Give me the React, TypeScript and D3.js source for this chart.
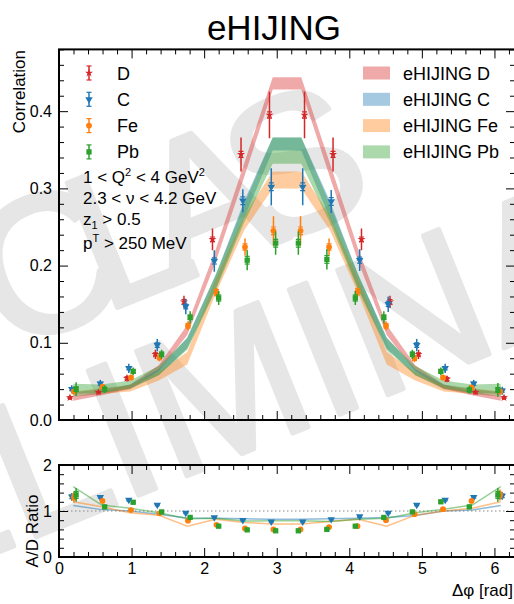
import { useEffect, useRef } from "react";
import * as d3 from "d3";

const FONT = "'Liberation Sans', Arial, Helvetica, sans-serif";

// Δφ bin centres (16 bins over 0..2π)
const bins = [0.196, 0.589, 0.982, 1.374, 1.767, 2.160, 2.553, 2.945, 3.338, 3.731, 4.123, 4.516, 4.909, 5.301, 5.694, 6.087];

// data points (correlation)
const valD = [0.029, 0.036, 0.054, 0.085, 0.153, 0.234, 0.344, 0.395, 0.395, 0.344, 0.234, 0.153, 0.085, 0.053, 0.036, 0.029];
const valC = [0.040, 0.047, 0.067, 0.097, 0.147, 0.206, 0.284, 0.302, 0.302, 0.283, 0.207, 0.150, 0.097, 0.067, 0.047, 0.038];
const valFe = [0.037, 0.043, 0.055, 0.081, 0.122, 0.165, 0.224, 0.245, 0.245, 0.224, 0.166, 0.122, 0.080, 0.055, 0.042, 0.037];
const valPb = [0.040, 0.040, 0.063, 0.085, 0.133, 0.158, 0.207, 0.229, 0.229, 0.208, 0.158, 0.133, 0.085, 0.063, 0.039, 0.039];

// systematic (long bar) and statistical (capped) errors
const sysD = [0.003, 0.003, 0.004, 0.006, 0.008, 0.014, 0.022, 0.030, 0.030, 0.022, 0.014, 0.008, 0.006, 0.004, 0.003, 0.003];
const sysC = [0.005, 0.005, 0.006, 0.008, 0.010, 0.014, 0.015, 0.024, 0.024, 0.015, 0.014, 0.010, 0.008, 0.006, 0.005, 0.005];
const sysFe = [0.004, 0.004, 0.004, 0.005, 0.006, 0.006, 0.011, 0.019, 0.019, 0.011, 0.006, 0.006, 0.005, 0.004, 0.004, 0.004];
const sysPb = [0.009, 0.005, 0.005, 0.006, 0.008, 0.009, 0.013, 0.015, 0.015, 0.013, 0.009, 0.008, 0.006, 0.005, 0.005, 0.009];
const statD = [0.001, 0.001, 0.002, 0.002, 0.003, 0.003, 0.004, 0.004, 0.004, 0.004, 0.003, 0.003, 0.002, 0.002, 0.001, 0.001];
const statC = [0.002, 0.002, 0.002, 0.003, 0.003, 0.004, 0.005, 0.005, 0.005, 0.005, 0.004, 0.003, 0.003, 0.002, 0.002, 0.002];
const statFe = [0.002, 0.002, 0.002, 0.003, 0.003, 0.004, 0.004, 0.005, 0.005, 0.004, 0.004, 0.003, 0.003, 0.002, 0.002, 0.002];
const statPb = [0.003, 0.002, 0.002, 0.003, 0.003, 0.004, 0.005, 0.005, 0.005, 0.005, 0.004, 0.003, 0.003, 0.002, 0.002, 0.003];

// eHIJING model bands (low / high)
const bandDlo = [0.025, 0.032, 0.040, 0.063, 0.110, 0.205, 0.315, 0.428, 0.428, 0.315, 0.205, 0.110, 0.063, 0.040, 0.032, 0.025];
const bandDhi = [0.030, 0.037, 0.046, 0.071, 0.123, 0.221, 0.333, 0.444, 0.444, 0.333, 0.221, 0.123, 0.071, 0.046, 0.037, 0.030];
const bandClo = [0.030, 0.034, 0.040, 0.058, 0.093, 0.170, 0.262, 0.349, 0.349, 0.262, 0.170, 0.093, 0.058, 0.040, 0.034, 0.030];
const bandChi = [0.036, 0.040, 0.046, 0.066, 0.107, 0.188, 0.284, 0.366, 0.366, 0.284, 0.188, 0.107, 0.066, 0.046, 0.040, 0.036];
const bandFelo = [0.030, 0.034, 0.037, 0.051, 0.072, 0.164, 0.246, 0.300, 0.300, 0.246, 0.164, 0.072, 0.051, 0.037, 0.034, 0.030];
const bandFehi = [0.037, 0.041, 0.045, 0.062, 0.088, 0.183, 0.265, 0.322, 0.322, 0.265, 0.183, 0.088, 0.062, 0.045, 0.041, 0.037];
const bandPblo = [0.034, 0.035, 0.041, 0.058, 0.091, 0.168, 0.256, 0.332, 0.332, 0.256, 0.168, 0.091, 0.058, 0.041, 0.035, 0.034];
const bandPbhi = [0.047, 0.046, 0.051, 0.070, 0.106, 0.188, 0.280, 0.366, 0.366, 0.280, 0.188, 0.106, 0.070, 0.051, 0.046, 0.047];

// A/D ratios (data)
const ratioC = [1.31, 1.30, 1.24, 1.13, 0.96, 0.86, 0.80, 0.77, 0.77, 0.82, 0.88, 0.96, 1.13, 1.24, 1.30, 1.33];
const ratioFe = [1.30, 1.22, 1.02, 0.95, 0.79, 0.70, 0.62, 0.60, 0.60, 0.65, 0.67, 0.80, 0.93, 1.04, 1.22, 1.35];
const ratioPb = [1.35, 1.09, 1.19, 0.98, 0.86, 0.67, 0.59, 0.57, 0.57, 0.60, 0.67, 0.86, 0.98, 1.20, 1.09, 1.35];
const ratioErrC = [0.08, 0.04, 0.04, 0.03, 0.03, 0.03, 0.03, 0.03, 0.03, 0.03, 0.03, 0.03, 0.03, 0.04, 0.04, 0.08];
const ratioErrFe = [0.12, 0.04, 0.04, 0.03, 0.03, 0.03, 0.03, 0.03, 0.03, 0.03, 0.03, 0.03, 0.03, 0.04, 0.04, 0.12];
const ratioErrPb = [0.15, 0.05, 0.05, 0.04, 0.03, 0.03, 0.03, 0.03, 0.03, 0.03, 0.03, 0.03, 0.04, 0.05, 0.05, 0.15];

// A/D ratios (eHIJING)
const modelC = [1.12, 1.03, 1.00, 0.93, 0.85, 0.84, 0.83, 0.82, 0.82, 0.83, 0.84, 0.86, 0.90, 1.00, 1.02, 1.12];
const modelFe = [1.20, 1.09, 0.96, 0.91, 0.67, 0.82, 0.75, 0.72, 0.72, 0.77, 0.82, 0.67, 0.91, 1.00, 1.06, 1.20];
const modelPb = [1.53, 1.13, 1.06, 0.96, 0.83, 0.84, 0.78, 0.79, 0.79, 0.77, 0.82, 0.84, 0.96, 1.04, 1.13, 1.53];

const legendLabels = ["D", "C", "Fe", "Pb"];
const yTicksMain = [0, 0.1, 0.2, 0.3, 0.4];
const yTicksRatio = [0, 1, 2];
const xTicks = [0, 1, 2, 3, 4, 5, 6];

export default function App() {
    const ref = useRef<SVGSVGElement>(null);

    useEffect(() => {
        const svg = d3.select(ref.current);
        svg.selectAll("*").remove();

        const x = d3.scaleLinear().domain([0, 2 * Math.PI]).range([59, 515]);
        const y = d3.scaleLinear().domain([0, 0.48]).range([420, 49.4]);
        const yr = d3.scaleLinear().domain([0, 2]).range([557, 465]);

        const series = [
            { name: "D", color: "#d62728", val: valD, sys: sysD, stat: statD, lo: bandDlo, hi: bandDhi, shift: 0.045, sym: d3.symbolStar, size: 20, rot: 0 },
            { name: "C", color: "#1f77b4", val: valC, sys: sysC, stat: statC, lo: bandClo, hi: bandChi, shift: 0.02, sym: d3.symbolTriangle, size: 24, rot: 180 },
            { name: "Fe", color: "#ff7f0e", val: valFe, sys: sysFe, stat: statFe, lo: bandFelo, hi: bandFehi, shift: -0.01, sym: d3.symbolCircle, size: 26, rot: 0 },
            { name: "Pb", color: "#2ca02c", val: valPb, sys: sysPb, stat: statPb, lo: bandPblo, hi: bandPbhi, shift: -0.04, sym: d3.symbolSquare, size: 28, rot: 0 },
        ];
        const ratios = [
            { s: series[1], val: ratioC, err: ratioErrC, model: modelC },
            { s: series[2], val: ratioFe, err: ratioErrFe, model: modelFe },
            { s: series[3], val: ratioPb, err: ratioErrPb, model: modelPb },
        ];
        const px = (b: number, shift: number) => x(b + (b < Math.PI ? -shift : shift));

        // watermark
        const wm = svg.append("g").attr("fill", "#e6e6e6").attr("stroke", "#e6e6e6").attr("stroke-width", 5)
            .attr("stroke-linejoin", "round").attr("font-family", FONT)
            .attr("font-size", 195).attr("text-anchor", "middle");
        wm.append("text").attr("transform", "translate(176,284) rotate(-22)")
            .attr("letter-spacing", -35).text("CLAS");
        wm.append("text").attr("transform", "translate(261,446) rotate(-22)").text("PRELIMINARY");

        const defs = svg.append("defs");
        defs.append("clipPath").attr("id", "clip-main").append("rect").attr("x", 59).attr("y", 49.4).attr("width", 456).attr("height", 370.6);
        defs.append("clipPath").attr("id", "clip-ratio").append("rect").attr("x", 59).attr("y", 465).attr("width", 456).attr("height", 92);

        // MAIN PANEL
        const main = svg.append("g").attr("clip-path", "url(#clip-main)");
        series.forEach(s => {
            const area = d3.area<number>()
                .x((_, i) => x(bins[i]))
                .y0((_, i) => y(s.lo[i]))
                .y1((_, i) => y(s.hi[i]));
            main.append("path").attr("d", area(s.lo)).attr("fill", s.color).attr("fill-opacity", 0.4);
        });

        const drawPoint = (g: any, cx: number, cy: number, ylo: number, yhi: number, clo: number, chi: number, s: any) => {
            g.append("line").attr("x1", cx).attr("x2", cx).attr("y1", ylo).attr("y2", yhi)
                .attr("stroke", s.color).attr("stroke-width", 1.5);
            [clo, chi].forEach(cyy => {
                g.append("line").attr("x1", cx - 2.5).attr("x2", cx + 2.5).attr("y1", cyy).attr("y2", cyy)
                    .attr("stroke", s.color).attr("stroke-width", 1.2);
            });
            g.append("path").attr("d", d3.symbol().type(s.sym).size(s.size)())
                .attr("transform", `translate(${cx},${cy}) rotate(${s.rot})`)
                .attr("fill", s.color);
        };

        series.forEach(s => {
            s.val.forEach((v, i) => {
                const cx = px(bins[i], s.shift);
                drawPoint(main, cx, y(v), y(v - s.sys[i]), y(v + s.sys[i]), y(v - s.stat[i]), y(v + s.stat[i]), s);
            });
        });

        // RATIO PANEL
        const rp = svg.append("g").attr("clip-path", "url(#clip-ratio)");
        rp.append("line").attr("x1", 59).attr("x2", 515).attr("y1", yr(1)).attr("y2", yr(1))
            .attr("stroke", "#888").attr("stroke-width", 1).attr("stroke-dasharray", "1.5,2.5");
        ratios.forEach(r => {
            const line = d3.line<number>().x((_, i) => x(bins[i])).y(d => yr(d));
            rp.append("path").attr("d", line(r.model)).attr("fill", "none")
                .attr("stroke", r.s.color).attr("stroke-opacity", 0.5).attr("stroke-width", 1.5);
        });
        ratios.forEach(r => {
            r.val.forEach((v, i) => {
                const cx = px(bins[i], r.s.shift);
                drawPoint(rp, cx, yr(v), yr(v - r.err[i]), yr(v + r.err[i]), yr(v - r.err[i] * 0.5), yr(v + r.err[i] * 0.5), r.s);
            });
        });

        // AXES
        const styleAxis = (g: any) => {
            g.select(".domain").remove();
            g.selectAll(".tick line").attr("stroke", "#000").attr("stroke-width", 1);
            g.selectAll("text").attr("font-family", FONT).attr("font-size", 16).attr("fill", "#000");
        };
        const minorX = d3.range(0, 6.3, 0.2).filter(v => Math.abs(v - Math.round(v)) > 0.01);
        const minorYMain = d3.range(0, 0.481, 0.02).filter(v => Math.abs(v * 10 - Math.round(v * 10)) > 0.01);
        const minorYRatio = d3.range(0, 2.01, 0.2).filter(v => Math.abs(v - Math.round(v)) > 0.01);

        const panels = [
            { ys: y, top: 49.4, bot: 420, major: yTicksMain, minor: minorYMain, yfmt: d3.format(".1f"), xlabels: false },
            { ys: yr, top: 465, bot: 557, major: yTicksRatio, minor: minorYRatio, yfmt: d3.format("d"), xlabels: true },
        ];
        panels.forEach(p => {
            svg.append("g").attr("transform", "translate(59,0)")
                .call(d3.axisLeft(p.ys).tickValues(p.major).tickSize(-9).tickPadding(7).tickFormat(p.yfmt as any)).call(styleAxis);
            svg.append("g").attr("transform", "translate(59,0)")
                .call(d3.axisLeft(p.ys).tickValues(p.minor).tickSize(-5).tickFormat(() => "")).call(styleAxis);
            svg.append("g").attr("transform", "translate(515,0)")
                .call(d3.axisRight(p.ys).tickValues(p.major).tickSize(-9).tickFormat(() => "")).call(styleAxis);
            svg.append("g").attr("transform", "translate(515,0)")
                .call(d3.axisRight(p.ys).tickValues(p.minor).tickSize(-5).tickFormat(() => "")).call(styleAxis);
            svg.append("g").attr("transform", `translate(0,${p.bot})`)
                .call(d3.axisBottom(x).tickValues(xTicks).tickSize(-9).tickPadding(6)
                    .tickFormat(p.xlabels ? (d3.format("d") as any) : () => "")).call(styleAxis);
            svg.append("g").attr("transform", `translate(0,${p.bot})`)
                .call(d3.axisBottom(x).tickValues(minorX).tickSize(-5).tickFormat(() => "")).call(styleAxis);
            svg.append("g").attr("transform", `translate(0,${p.top})`)
                .call(d3.axisTop(x).tickValues(xTicks).tickSize(-9).tickFormat(() => "")).call(styleAxis);
            svg.append("g").attr("transform", `translate(0,${p.top})`)
                .call(d3.axisTop(x).tickValues(minorX).tickSize(-5).tickFormat(() => "")).call(styleAxis);
            svg.append("rect").attr("x", 59).attr("y", p.top).attr("width", 456).attr("height", p.bot - p.top)
                .attr("fill", "none").attr("stroke", "#000").attr("stroke-width", 2);
        });

        // LABELS
        const txt = svg.append("g").attr("font-family", FONT).attr("fill", "#000");
        txt.append("text").attr("x", 274).attr("y", 40).attr("text-anchor", "middle").attr("font-size", 35).text("eHIJING");
        txt.append("text").attr("transform", "translate(25,50) rotate(-90)").attr("text-anchor", "end")
            .attr("font-size", 17).text("Correlation");
        txt.append("text").attr("transform", "translate(38,531) rotate(-90)").attr("text-anchor", "middle")
            .attr("font-size", 17).text("A/D Ratio");
        txt.append("text").attr("x", 513).attr("y", 596).attr("text-anchor", "end").attr("font-size", 17).text("Δφ [rad]");

        // data legend
        series.forEach((s, i) => {
            const cy = 73 + i * 26.3;
            const g = svg.append("g");
            drawPoint(g, 89, cy, cy - 7, cy + 7, cy - 7, cy + 7, s);
            txt.append("text").attr("x", 117).attr("y", cy + 6.5).attr("font-size", 18).text(legendLabels[i]);
        });

        // cut text
        const cutY = [183, 204, 225, 249];
        const cutParts = [
            [["1 < Q", ""], ["2", "sup"], [" < 4 GeV", ""], ["2", "sup"]],
            [["2.3 < ν < 4.2 GeV", ""]],
            [["z", ""], ["1", "sub"], [" > 0.5", ""]],
            [["p", ""], ["T", "sup"], [" > 250 MeV", ""]],
        ];
        cutParts.forEach((parts, i) => {
            const t = txt.append("text").attr("x", 83).attr("y", cutY[i]).attr("font-size", 17);
            let shift = 0;
            parts.forEach(([str, kind]) => {
                const target = kind === "sup" ? -7 : kind === "sub" ? 4 : 0;
                t.append("tspan").attr("dy", target - shift).attr("font-size", kind ? 11 : 17).text(str);
                shift = target;
            });
        });

        // model legend
        series.forEach((s, i) => {
            const cy = 73 + i * 26.3;
            svg.append("rect").attr("x", 363).attr("y", cy - 6.5).attr("width", 27).attr("height", 13)
                .attr("fill", s.color).attr("fill-opacity", 0.4);
            txt.append("text").attr("x", 403).attr("y", cy + 6.5).attr("font-size", 18).text("eHIJING " + s.name);
        });
    }, []);

    return (
        <svg ref={ref} width={514} height={604}
            style={{ position: "fixed", left: 0, top: 0, background: "#fff", display: "block" }} />
    );
}
